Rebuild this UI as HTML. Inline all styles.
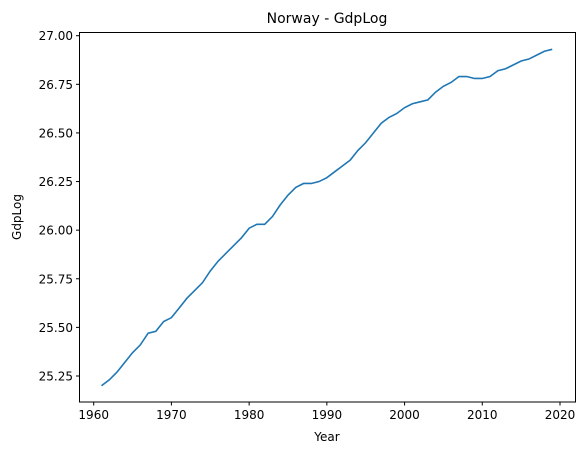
<!DOCTYPE html>
<html><head><meta charset="utf-8"><style>
body{margin:0;background:#fff}
svg{font-family:"DejaVu Sans","Liberation Sans",sans-serif}
</style></head><body>
<svg id="chart" width="587" height="455">
<text x="327" y="23" font-size="14" text-anchor="middle">Norway - GdpLog</text>
<g id="ticks"></g>
<rect x="79.5" y="32.5" width="496" height="369.5" fill="none" stroke="#000" stroke-width="1"/>
<text x="327" y="441" font-size="12" text-anchor="middle">Year</text>
<text x="21" y="217" font-size="12" text-anchor="middle" transform="rotate(-90 21 217)">GdpLog</text>
</svg>
<script>
const years=[1961,1962,1963,1964,1965,1966,1967,1968,1969,1970,1971,1972,1973,1974,1975,1976,1977,1978,1979,1980,1981,1982,1983,1984,1985,1986,1987,1988,1989,1990,1991,1992,1993,1994,1995,1996,1997,1998,1999,2000,2001,2002,2003,2004,2005,2006,2007,2008,2009,2010,2011,2012,2013,2014,2015,2016,2017,2018,2019];
const gdpLog=[25.20,25.23,25.27,25.32,25.37,25.41,25.47,25.48,25.53,25.55,25.60,25.65,25.69,25.73,25.79,25.84,25.88,25.92,25.96,26.01,26.03,26.03,26.07,26.13,26.18,26.22,26.24,26.24,26.25,26.27,26.30,26.33,26.36,26.41,26.45,26.50,26.55,26.58,26.60,26.63,26.65,26.66,26.67,26.71,26.74,26.76,26.79,26.79,26.78,26.78,26.79,26.82,26.83,26.85,26.87,26.88,26.90,26.92,26.93];
const xTicks=[1960,1970,1980,1990,2000,2010,2020];
const yTicks=[25.25,25.50,25.75,26.00,26.25,26.50,26.75,27.00];
const xs=v=>93.7+(v-1960)*(560-93.7)/60;
const ys=v=>376-(v-25.25)*(376-35.7)/1.75;
const NS="http://www.w3.org/2000/svg";
const svg=document.getElementById('chart'),tg=document.getElementById('ticks');
function mk(t,a,p){const e=document.createElementNS(NS,t);for(const k in a)e.setAttribute(k,a[k]);(p||tg).appendChild(e);return e;}
xTicks.forEach(t=>{
 const l=mk('line',{x1:xs(t),x2:xs(t),y1:402,y2:405.5,stroke:'#000'});
 
 
 const tx=mk('text',{x:xs(t),y:419,'font-size':12,'text-anchor':'middle'});tx.textContent=t;
 
 
});
yTicks.forEach(t=>{
 const l=mk('line',{x1:76,x2:79.5,y1:ys(t),y2:ys(t),stroke:'#000'});
 
 
 const tx=mk('text',{x:73,y:ys(t)+4.5,'font-size':12,'text-anchor':'end'});tx.textContent=t.toFixed(2);
 
 
});
const line=mk('polyline',{points:years.map((y,i)=>xs(y)+','+ys(gdpLog[i])).join(' '),fill:'none',stroke:'#1f77b4','stroke-width':1.6},svg);


</script>
</body></html>
